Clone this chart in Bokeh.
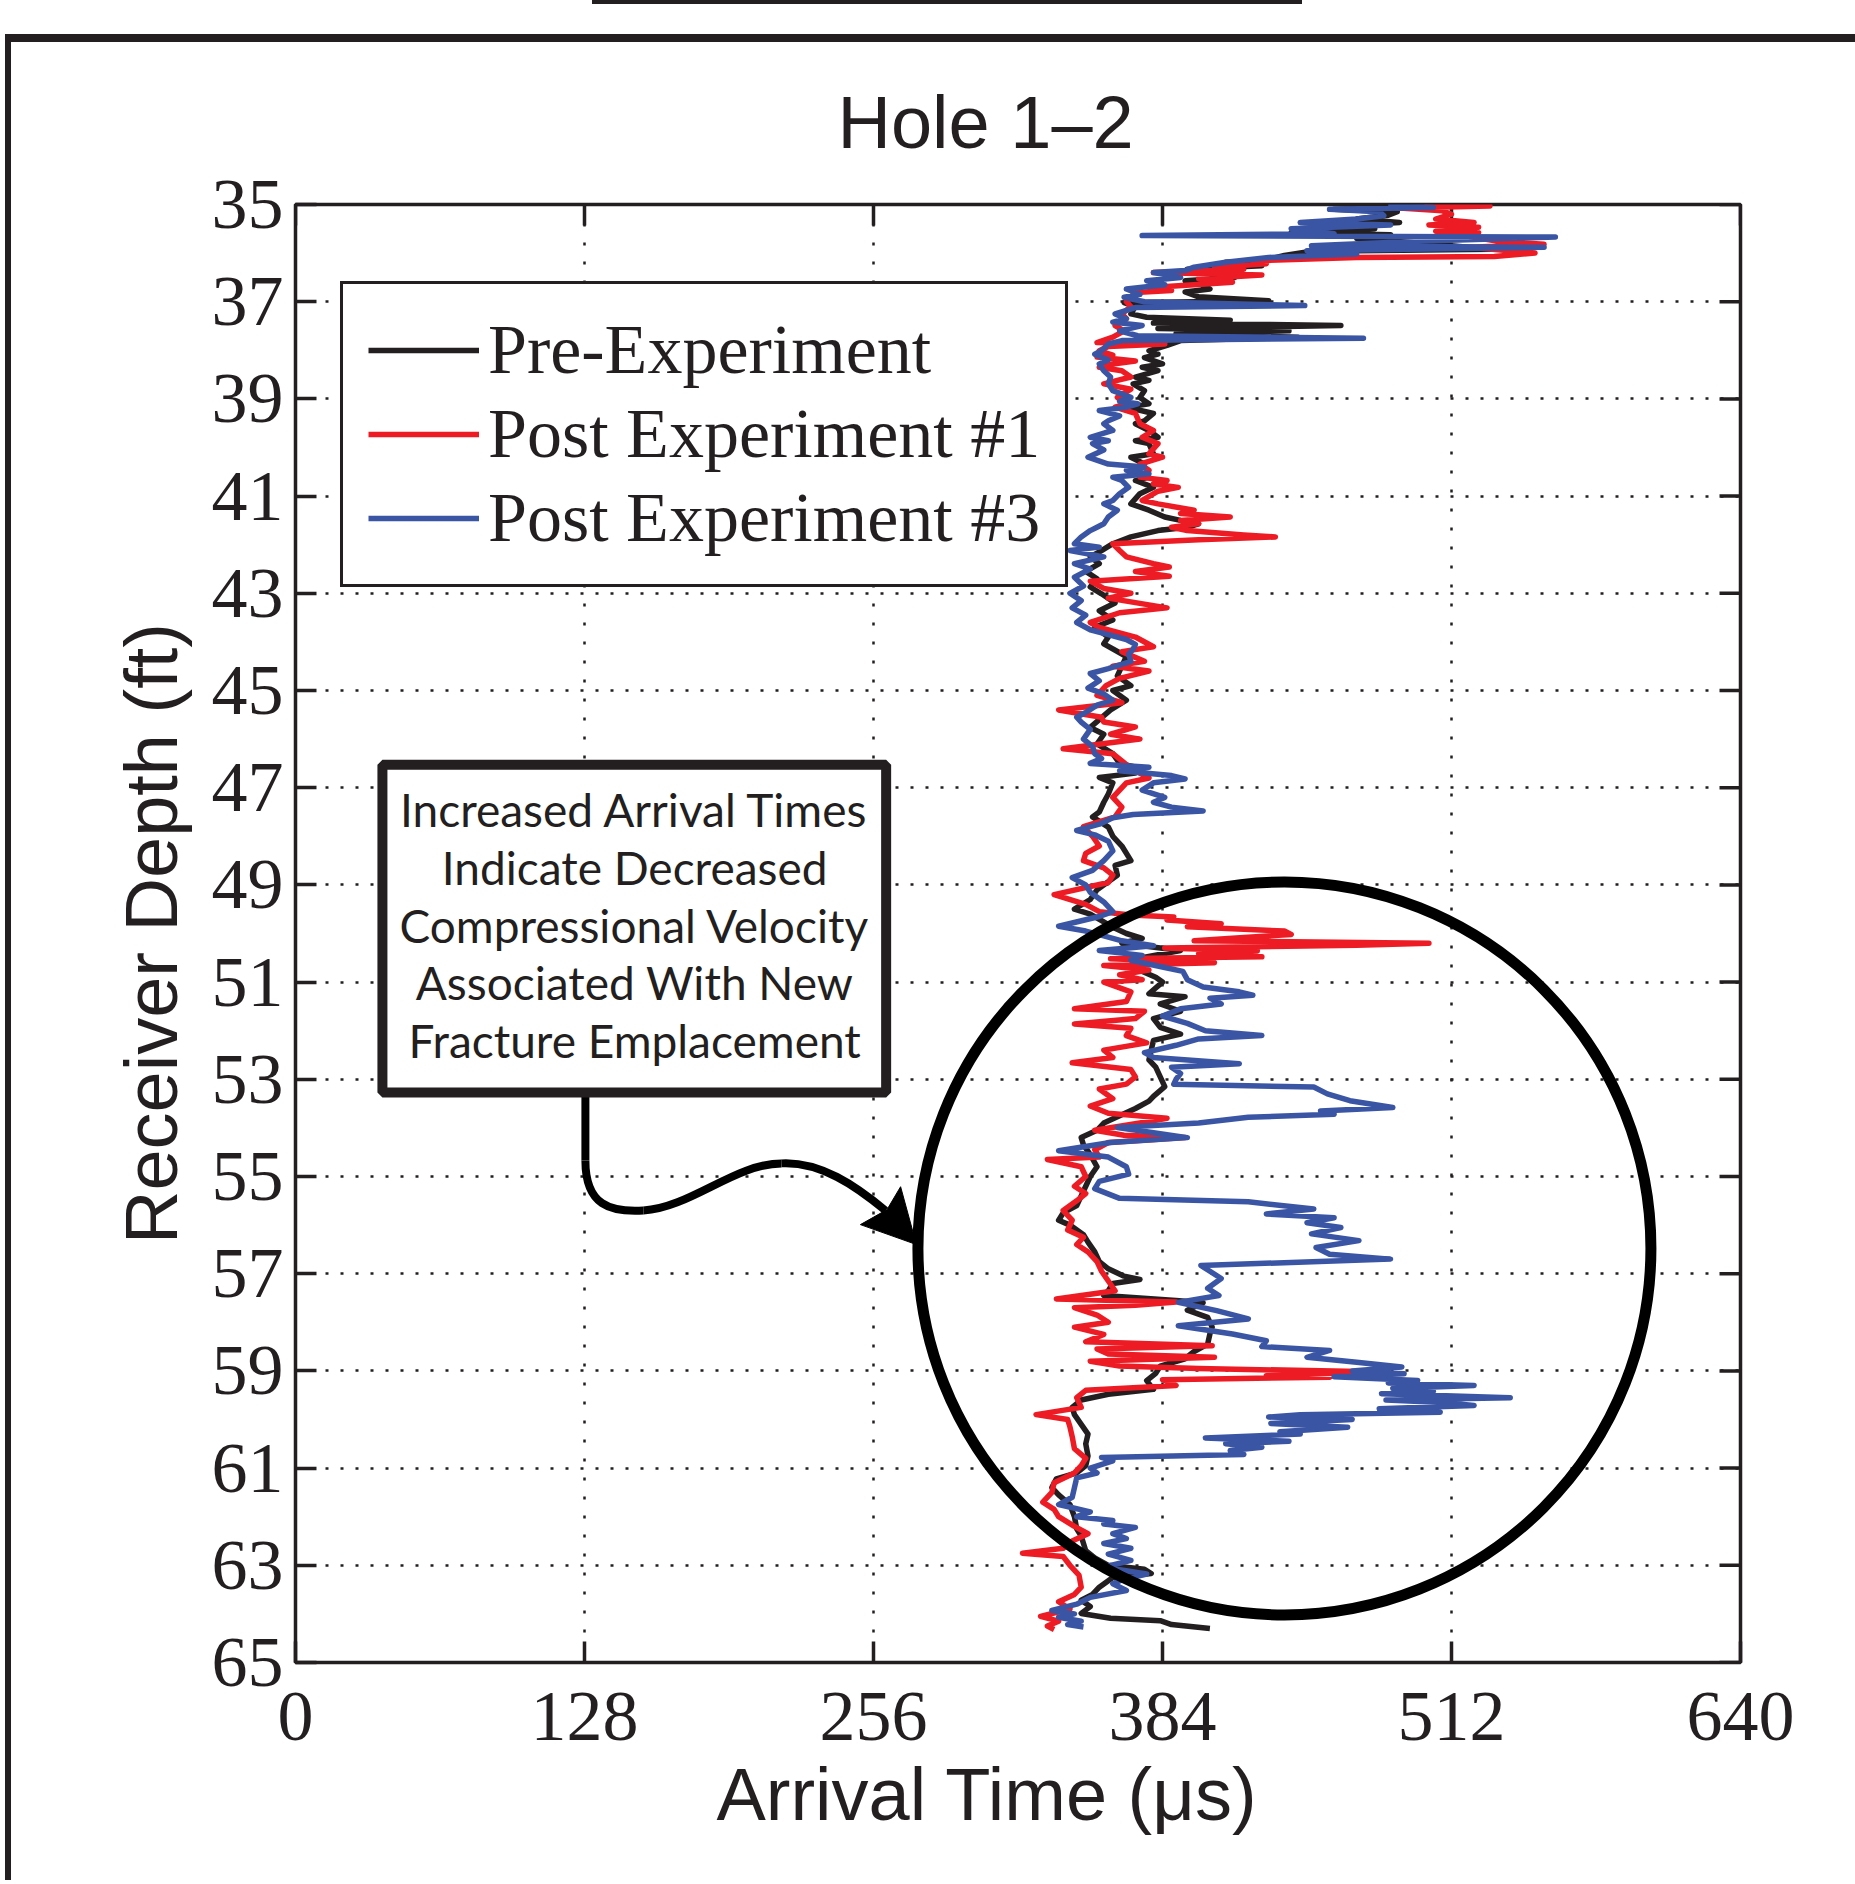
from bokeh.plotting import figure
from bokeh.models import (Range1d, FixedTicker, Legend, LegendItem,
                          Label, BoxAnnotation)
from bokeh.embed import file_html
from bokeh.resources import INLINE

# ---------------- data (depth ft, arrival time us) ----------------
pre_experiment = [
    (35.00, 482), (35.03, 509), (35.06, 490), (35.10, 460), (35.15, 488), (35.22, 484),
    (35.30, 470), (35.37, 489), (35.42, 470), (35.50, 478), (35.58, 441), (35.62, 485),
    (35.70, 470), (35.80, 500), (35.92, 530), (35.96, 450), (36.05, 438), (36.15, 429),
    (36.19, 412), (36.26, 428), (36.33, 395), (36.42, 405), (36.50, 416), (36.57, 394),
    (36.65, 402), (36.74, 405), (36.80, 394), (36.90, 400), (36.98, 431), (37.02, 367),
    (37.10, 372), (37.25, 370), (37.32, 377), (37.38, 414), (37.44, 380), (37.49, 463),
    (37.55, 382), (37.60, 440), (37.66, 390), (37.73, 444), (37.80, 392), (37.90, 386),
    (38.01, 378), (38.08, 382), (38.15, 376), (38.28, 384), (38.35, 375), (38.42, 382),
    (38.55, 372), (38.62, 378), (38.69, 371), (38.83, 376), (38.97, 374), (39.10, 378),
    (39.17, 368), (39.30, 380), (39.45, 376), (39.51, 372), (39.65, 378), (39.79, 382),
    (39.86, 372), (39.92, 378), (40.13, 380), (40.20, 370), (40.34, 376), (40.47, 372),
    (40.61, 378), (40.68, 372), (40.82, 380), (40.95, 374), (41.16, 370), (41.29, 378),
    (41.43, 385), (41.50, 392), (41.57, 400), (41.64, 395), (41.71, 382), (41.84, 370),
    (41.98, 362), (42.12, 357), (42.25, 352), (42.39, 356), (42.55, 350), (42.70, 355),
    (42.87, 352), (43.01, 357), (43.20, 363), (43.36, 356), (43.55, 362), (43.70, 354),
    (43.90, 360), (44.04, 358), (44.30, 368), (44.50, 366), (44.70, 364), (44.90, 370),
    (45.00, 362), (45.20, 368), (45.40, 361), (45.60, 356), (45.76, 352), (45.90, 358),
    (46.10, 355), (46.30, 362), (46.50, 365), (46.60, 374), (46.70, 372), (46.79, 356),
    (46.90, 362), (47.13, 360), (47.30, 358), (47.50, 356), (47.60, 353), (47.81, 360),
    (48.00, 362), (48.20, 366), (48.50, 370), (48.60, 363), (48.80, 364), (49.10, 355),
    (49.30, 352), (49.50, 345), (49.60, 352), (49.87, 362), (50.00, 368), (50.10, 375),
    (50.20, 366), (50.35, 392), (50.50, 375), (50.70, 371), (50.90, 381), (51.00, 384),
    (51.24, 378), (51.30, 394), (51.45, 383), (51.60, 392), (51.75, 380), (51.93, 383),
    (52.07, 392), (52.20, 380), (52.40, 379), (52.60, 378), (52.75, 381), (52.95, 383),
    (53.15, 385), (53.35, 380), (53.45, 378), (53.60, 372), (53.75, 365), (53.90, 358),
    (54.05, 355), (54.20, 348), (54.35, 349), (54.55, 352), (54.80, 355), (55.00, 352),
    (55.20, 350), (55.40, 348), (55.60, 346), (55.75, 340), (55.90, 338), (56.00, 343),
    (56.20, 349), (56.35, 351), (56.55, 354), (56.75, 356), (56.90, 360), (57.05, 367),
    (57.12, 374), (57.20, 362), (57.35, 360), (57.45, 358), (57.55, 390), (57.60, 402),
    (57.75, 395), (57.90, 404), (58.10, 406), (58.24, 405), (58.45, 404), (58.60, 398),
    (58.75, 394), (58.90, 383), (59.05, 381), (59.20, 377), (59.38, 380), (59.48, 360),
    (59.60, 348), (59.75, 344), (59.90, 345), (60.10, 348), (60.30, 351), (60.50, 350),
    (60.75, 351), (60.95, 350), (61.10, 346), (61.22, 337), (61.40, 335), (61.55, 338),
    (61.75, 343), (62.00, 345), (62.25, 346), (62.40, 348), (62.70, 350), (62.85, 354),
    (63.00, 360), (63.08, 376), (63.17, 379), (63.25, 362), (63.45, 356), (63.60, 353),
    (63.72, 348), (63.85, 352), (63.99, 348), (64.09, 361), (64.14, 383), (64.22, 388),
    (64.30, 405),
]

post_experiment_1 = [
    (35.00, 500), (35.03, 529), (35.07, 489), (35.13, 508), (35.20, 512), (35.30, 505),
    (35.37, 522), (35.42, 502), (35.47, 524), (35.55, 505), (35.58, 524), (35.66, 520),
    (35.75, 532), (35.82, 553), (35.88, 520), (36.00, 549), (36.07, 531), (36.09, 470),
    (36.16, 424), (36.22, 430), (36.29, 407), (36.33, 420), (36.40, 380), (36.45, 428),
    (36.53, 400), (36.60, 415), (36.71, 379), (36.77, 388), (36.81, 372), (36.90, 370),
    (37.00, 368), (37.10, 370), (37.25, 366), (37.35, 368), (37.49, 363), (37.60, 367),
    (37.73, 362), (37.84, 355), (37.87, 385), (37.92, 360), (38.01, 356), (38.10, 362),
    (38.14, 355), (38.22, 372), (38.28, 362), (38.35, 356), (38.42, 366), (38.55, 370),
    (38.62, 364), (38.69, 358), (38.80, 370), (38.97, 364), (39.10, 368), (39.17, 363),
    (39.30, 372), (39.51, 374), (39.65, 380), (39.79, 375), (39.92, 382), (40.13, 378),
    (40.20, 384), (40.34, 374), (40.47, 378), (40.61, 374), (40.68, 386), (40.75, 380),
    (40.82, 391), (40.90, 382), (41.09, 375), (41.16, 382), (41.29, 398), (41.36, 392),
    (41.43, 414), (41.50, 392), (41.57, 400), (41.64, 388), (41.71, 395), (41.80, 420),
    (41.84, 434), (41.90, 400), (41.98, 362), (42.12, 365), (42.25, 368), (42.39, 380),
    (42.46, 387), (42.55, 372), (42.65, 387), (42.75, 352), (42.90, 358), (43.00, 370),
    (43.10, 360), (43.30, 386), (43.40, 365), (43.60, 352), (43.70, 356), (43.90, 372),
    (44.10, 380), (44.20, 366), (44.40, 376), (44.50, 362), (44.60, 378), (44.75, 365),
    (44.90, 359), (45.10, 355), (45.25, 366), (45.40, 338), (45.55, 357), (45.65, 358),
    (45.75, 372), (45.90, 361), (46.00, 374), (46.20, 340), (46.30, 362), (46.45, 366),
    (46.60, 370), (46.80, 378), (46.90, 368), (47.20, 362), (47.40, 366), (47.60, 363),
    (47.80, 349), (48.00, 353), (48.20, 356), (48.35, 350), (48.50, 349), (48.65, 358),
    (48.80, 362), (48.95, 360), (49.20, 336), (49.40, 350), (49.55, 356), (49.62, 370),
    (49.66, 389), (49.72, 386), (49.80, 410), (49.86, 395), (49.95, 438), (50.02, 441),
    (50.08, 420), (50.15, 398), (50.20, 502), (50.24, 470), (50.30, 385), (50.36, 426),
    (50.42, 400), (50.48, 428), (50.52, 361), (50.60, 407), (50.66, 358), (50.75, 378),
    (50.85, 365), (50.95, 375), (51.00, 358), (51.20, 370), (51.40, 368), (51.55, 345),
    (51.60, 376), (51.75, 372), (51.86, 345), (51.95, 370), (52.10, 368), (52.25, 377),
    (52.40, 358), (52.55, 362), (52.66, 344), (52.80, 370), (52.95, 372), (53.10, 368),
    (53.20, 356), (53.40, 362), (53.55, 352), (53.70, 360), (53.80, 386), (53.90, 374),
    (54.05, 354), (54.15, 367), (54.20, 394), (54.30, 360), (54.45, 354), (54.60, 356),
    (54.65, 333), (54.80, 348), (55.00, 350), (55.20, 345), (55.35, 350), (55.50, 346),
    (55.70, 340), (55.90, 344), (56.10, 342), (56.25, 349), (56.40, 346), (56.55, 351),
    (56.75, 355), (56.95, 357), (57.15, 360), (57.35, 363), (57.52, 337), (57.58, 390),
    (57.65, 372), (57.70, 345), (57.85, 355), (58.00, 360), (58.10, 345), (58.25, 358),
    (58.40, 350), (58.48, 406), (58.55, 355), (58.65, 360), (58.72, 407), (58.80, 352),
    (58.90, 365), (58.95, 400), (59.02, 477), (59.10, 430), (59.13, 458), (59.18, 384),
    (59.30, 390), (59.40, 350), (59.55, 346), (59.75, 348), (59.90, 328), (60.00, 342),
    (60.15, 343), (60.35, 344), (60.60, 345), (60.80, 350), (60.95, 348), (61.10, 345),
    (61.30, 336), (61.50, 335), (61.70, 331), (61.85, 336), (62.00, 338), (62.20, 345),
    (62.35, 351), (62.50, 344), (62.65, 340), (62.75, 322), (62.82, 340), (63.00, 343),
    (63.20, 347), (63.45, 348), (63.60, 345), (63.75, 338), (63.90, 343), (64.05, 330),
    (64.15, 338), (64.25, 333), (64.32, 336),
]

post_experiment_3 = [
    (35.00, 484), (35.06, 504), (35.10, 458), (35.15, 480), (35.23, 482), (35.30, 470),
    (35.37, 445), (35.42, 485), (35.50, 441), (35.60, 460), (35.64, 375), (35.67, 558),
    (35.75, 500), (35.85, 450), (35.88, 553), (35.95, 448), (36.02, 470), (36.09, 431),
    (36.19, 412), (36.29, 398), (36.36, 394), (36.40, 380), (36.50, 392), (36.57, 377),
    (36.65, 385), (36.74, 368), (36.85, 374), (36.91, 367), (37.00, 376), (37.08, 447),
    (37.12, 372), (37.25, 363), (37.35, 368), (37.42, 362), (37.49, 375), (37.60, 365),
    (37.70, 373), (37.75, 473), (37.80, 366), (37.87, 360), (38.01, 357), (38.08, 354),
    (38.20, 360), (38.28, 356), (38.42, 358), (38.55, 361), (38.69, 360), (38.83, 362),
    (38.97, 370), (39.05, 365), (39.10, 373), (39.17, 368), (39.24, 356), (39.35, 365),
    (39.45, 360), (39.51, 358), (39.65, 362), (39.79, 352), (39.86, 360), (39.92, 353),
    (40.05, 358), (40.20, 351), (40.34, 360), (40.40, 376), (40.47, 368), (40.54, 378),
    (40.61, 362), (40.68, 366), (40.82, 369), (40.95, 365), (41.09, 362), (41.16, 358),
    (41.29, 364), (41.43, 360), (41.57, 358), (41.64, 355), (41.71, 352), (41.84, 348),
    (41.98, 345), (42.05, 356), (42.12, 343), (42.25, 358), (42.39, 345), (42.50, 352),
    (42.67, 345), (42.85, 349), (43.00, 343), (43.15, 348), (43.30, 344), (43.45, 350),
    (43.60, 346), (43.75, 352), (43.85, 360), (43.95, 368), (44.05, 372), (44.15, 371),
    (44.25, 369), (44.40, 370), (44.55, 360), (44.65, 352), (44.80, 356), (44.95, 351),
    (45.07, 358), (45.20, 362), (45.30, 355), (45.45, 350), (45.55, 346), (45.65, 348),
    (45.80, 352), (46.00, 349), (46.15, 353), (46.30, 354), (46.40, 357), (46.50, 352),
    (46.58, 378), (46.65, 365), (46.75, 388), (46.82, 394), (46.90, 380), (47.05, 375),
    (47.20, 385), (47.30, 380), (47.40, 388), (47.48, 402), (47.55, 371), (47.62, 362),
    (47.75, 356), (47.88, 346), (47.97, 354), (48.10, 360), (48.30, 362), (48.50, 358),
    (48.70, 353), (48.85, 344), (49.00, 350), (49.15, 352), (49.35, 358), (49.55, 362),
    (49.65, 356), (49.85, 338), (49.95, 350), (50.05, 358), (50.15, 366), (50.25, 380),
    (50.35, 356), (50.45, 375), (50.55, 370), (50.70, 385), (50.78, 393), (50.95, 395),
    (51.10, 402), (51.20, 418), (51.27, 424), (51.33, 405), (51.45, 410), (51.55, 392),
    (51.70, 384), (51.85, 395), (52.00, 403), (52.10, 428), (52.17, 400), (52.30, 390),
    (52.45, 376), (52.55, 380), (52.68, 418), (52.75, 388), (52.88, 392), (53.00, 390),
    (53.10, 389), (53.16, 451), (53.30, 457), (53.44, 467), (53.58, 486), (53.65, 454),
    (53.72, 460), (53.78, 422), (53.90, 400), (53.99, 364), (54.10, 380), (54.20, 395),
    (54.30, 361), (54.47, 338), (54.60, 360), (54.80, 368), (54.95, 369), (55.10, 356),
    (55.25, 354), (55.45, 365), (55.52, 422), (55.67, 451), (55.77, 430), (55.85, 460),
    (55.95, 448), (56.05, 463), (56.18, 450), (56.32, 471), (56.46, 452), (56.60, 458),
    (56.70, 485), (56.83, 401), (56.95, 405), (57.10, 410), (57.30, 404), (57.45, 409),
    (57.59, 391), (57.76, 408), (57.93, 422), (58.07, 391), (58.24, 415), (58.38, 430),
    (58.50, 428), (58.58, 458), (58.72, 448), (58.82, 470), (58.92, 490), (59.00, 468),
    (59.06, 491), (59.12, 460), (59.20, 497), (59.25, 484), (59.30, 522), (59.36, 486),
    (59.42, 504), (59.47, 481), (59.55, 538), (59.60, 483), (59.65, 508), (59.71, 522),
    (59.78, 480), (59.85, 507), (59.90, 445), (59.95, 431), (60.00, 468), (60.08, 432),
    (60.16, 466), (60.25, 436), (60.30, 445), (60.38, 403), (60.45, 440), (60.50, 412),
    (60.57, 428), (60.64, 414), (60.72, 420), (60.78, 357), (60.85, 362), (61.00, 352),
    (61.10, 355), (61.20, 346), (61.40, 345), (61.60, 344), (61.75, 338), (61.90, 352),
    (62.00, 346), (62.08, 362), (62.15, 358), (62.22, 372), (62.35, 362), (62.45, 368),
    (62.55, 358), (62.65, 370), (62.77, 360), (62.90, 370), (63.04, 358), (63.18, 377),
    (63.30, 366), (63.38, 362), (63.52, 368), (63.66, 352), (63.80, 346), (63.93, 335),
    (64.00, 345), (64.07, 338), (64.15, 348), (64.22, 342), (64.27, 349),
]

series_names = ["Pre-Experiment", "Post Experiment #1", "Post Experiment #3"]
series_colors = ["#231f20", "#ed1c24", "#3b55a5"]
x_ticks = [0, 128, 256, 384, 512, 640]
y_ticks = [35, 37, 39, 41, 43, 45, 47, 49, 51, 53, 55, 57, 59, 61, 63, 65]

note_lines = ["Increased Arrival Times", "Indicate Decreased",
              "Compressional Velocity", "Associated With New",
              "Fracture Emplacement"]

INK = "#231f20"

# ---------------- figure ----------------
W, H = 1855, 1880
p = figure(width=W, height=H, output_backend="svg", toolbar_location=None,
           x_range=Range1d(0, 640), y_range=Range1d(65, 35),
           min_border_left=295, min_border_right=115,
           min_border_top=204, min_border_bottom=218,
           x_axis_label="Arrival Time (\u03bcs)\u00a0\u00a0\u00a0",
           y_axis_label="Receiver Depth (ft)")
# page-level panel frame (thick top and left rules, tab edge above) painted behind
# the transparent border area of the canvas
bar = "linear-gradient(%s, %s)" % (INK, INK)
p.styles = {
    "background-color": "white",
    "background-image": ", ".join([bar, bar, bar]),
    "background-size": "1850px 8px, 6px 1846px, 710px 4px",
    "background-position": "5px 34px, 5px 34px, 592px 0px",
    "background-repeat": "no-repeat",
}
p.background_fill_color = "white"
p.border_fill_color = None
p.outline_line_color = INK
p.outline_line_width = 3.5
p.outline_line_alpha = 1

p.title.text = "Hole 1\u20132"
p.title.text_font = "Liberation Sans"
p.title.text_font_size = "74px"
p.title.text_font_style = "normal"
p.title.text_color = INK
p.title.align = "left"
p.title.offset = 542
p.title.standoff = 81

for ax, ticks in ((p.xaxis[0], x_ticks), (p.yaxis[0], y_ticks)):
    ax.ticker = FixedTicker(ticks=ticks, minor_ticks=[])
    ax.major_label_text_font = "Liberation Serif"
    ax.major_label_text_font_size = "72px"
    ax.major_label_text_color = INK
    ax.major_tick_in = 21
    ax.major_tick_out = 0
    ax.major_tick_line_width = 3.5
    ax.major_tick_line_color = INK
    ax.minor_tick_line_color = None
    ax.axis_line_color = None
    ax.axis_label_text_font = "Liberation Sans"
    ax.axis_label_text_font_size = "74px"
    ax.axis_label_text_font_style = "normal"
    ax.axis_label_text_color = INK
p.xaxis[0].major_label_standoff = 30
p.xaxis[0].axis_label_standoff = 10
p.yaxis[0].major_label_standoff = 12
p.yaxis[0].axis_label_standoff = 16

# inward ticks on the top and right edges of the box
tick_len_d = 21 * 30 / 1458
tick_len_t = 21 * 640 / 1445
p.segment(x0=x_ticks, y0=[35] * len(x_ticks), x1=x_ticks, y1=[35 + tick_len_d] * len(x_ticks),
          line_color=INK, line_width=3.5)
p.segment(x0=[640] * len(y_ticks), y0=y_ticks, x1=[640 - tick_len_t] * len(y_ticks), y1=y_ticks,
          line_color=INK, line_width=3.5)

p.xgrid.grid_line_color = INK
p.xgrid.grid_line_width = 2.5
p.xgrid.grid_line_dash = "3 16"
p.ygrid.grid_line_color = INK
p.ygrid.grid_line_width = 2.5
p.ygrid.grid_line_dash = "3 12"

# ---------------- series ----------------
renderers = []
for data, color in zip((pre_experiment, post_experiment_1, post_experiment_3), series_colors):
    depth = [d for d, t in data]
    time = [t for d, t in data]
    r = p.line(x=time, y=depth, line_color=color, line_width=5.5, line_join="round")
    renderers.append(r)

# ---------------- highlight circle ----------------
circle_center_t, circle_center_d = 438.0, 56.48
p.scatter(x=[circle_center_t], y=[circle_center_d], marker="circle", size=733,
          fill_color=None, line_color="black", line_width=11)

# ---------------- curved arrow ----------------
p.bezier(x0=[128.4, 128.4, 154.1, 215.3], y0=[53.33, 54.67, 55.70, 54.73],
         x1=[128.4, 154.1, 215.3, 261.3], y1=[54.67, 55.70, 54.73, 55.70],
         cx0=[128.4, 128.4, 174.9, 232.5], cy0=[53.8, 55.60, 55.64, 54.69],
         cx1=[128.4, 139.5, 194.9, 248.0], cy1=[54.2, 55.74, 54.73, 55.19],
         line_color="black", line_width=8)
p.patch(x=[275.0, 250.2, 262.0, 268.0], y=[56.40, 55.99, 55.68, 55.21],
        fill_color="black", line_color="black", line_width=1)

# ---------------- note box ----------------
p.add_layout(BoxAnnotation(left=38.5, right=261.6, top=46.53, bottom=53.27,
                           fill_color="white", fill_alpha=1.0,
                           line_color=INK, line_width=10, line_alpha=1.0))
note_baselines = [47.45, 48.64, 49.84, 51.01, 52.20]
for txt, yb in zip(note_lines, note_baselines):
    p.add_layout(Label(x=150.2, y=yb, text=txt, text_align="center",
                       text_baseline="alphabetic", text_font="Lato",
                       text_font_size="46px", text_color=INK))

# ---------------- legend ----------------
legend = Legend(items=[LegendItem(label=n, renderers=[r]) for n, r in zip(series_names, renderers)],
                location=(45, 1075), orientation="vertical",
                label_text_font="Liberation Serif", label_text_font_size="70px",
                label_text_color=INK,
                glyph_width=111, glyph_height=82, label_height=82,
                label_standoff=9, spacing=2, padding=25, margin=0,
                border_line_color=INK, border_line_width=3.5, border_line_alpha=1.0,
                background_fill_color="white", background_fill_alpha=1.0)
p.add_layout(legend)

open("out.html", "w").write(file_html(p, INLINE))
